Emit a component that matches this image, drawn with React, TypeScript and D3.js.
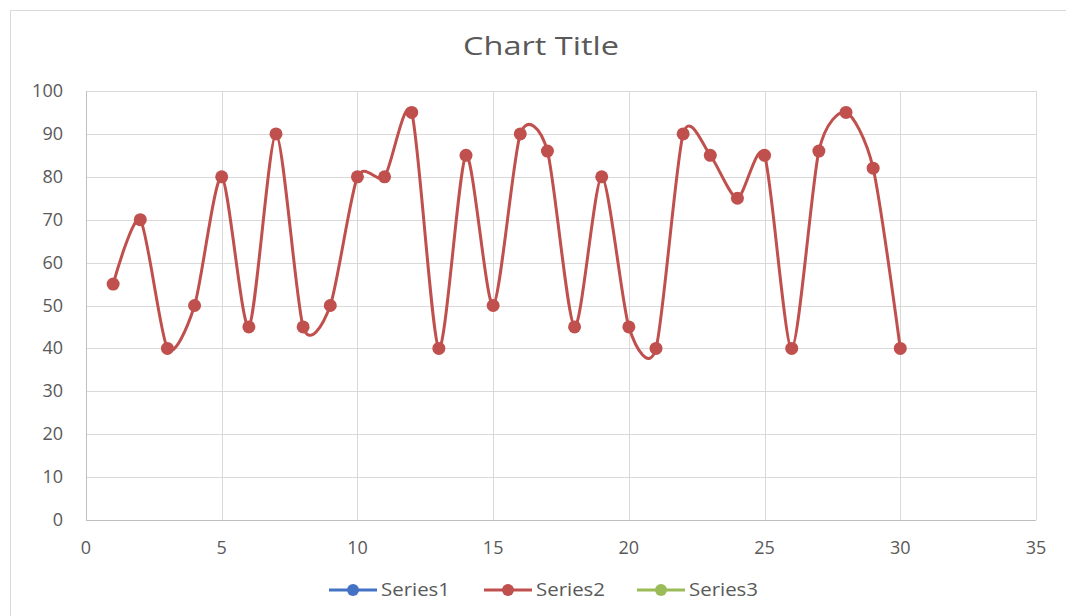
import React from "react";
import * as d3 from "d3";

const xValues = [1, 2, 3, 4, 5, 6, 7, 8, 9, 10, 11, 12, 13, 14, 15, 16, 17, 18, 19, 20, 21, 22, 23, 24, 25, 26, 27, 28, 29, 30];
const series2 = [55, 70, 40, 50, 80, 45, 90, 45, 50, 80, 80, 95, 40, 85, 50, 90, 86, 45, 80, 45, 40, 90, 85, 75, 85, 40, 86, 95, 82, 40];
const xTicks = [0, 5, 10, 15, 20, 25, 30, 35];
const yTicks = [0, 10, 20, 30, 40, 50, 60, 70, 80, 90, 100];
const legendItems = [
  { name: "Series1", color: "#4472C4" },
  { name: "Series2", color: "#C0504D" },
  { name: "Series3", color: "#9BBB59" },
];

export default function App() {
  const W = 1066, H = 616;
  const x = d3.scaleLinear().domain([0, 35]).range([86, 1036]);
  const y = d3.scaleLinear().domain([0, 100]).range([520, 91]);
  const pts: [number, number][] = xValues.map((v, i) => [v, series2[i]]);
  const line = d3
    .line<[number, number]>()
    .x((d) => x(d[0]))
    .y((d) => y(d[1]))
    .curve(d3.curveCardinal.tension(0.25));
  const font = "'Open Sans', 'Noto Sans', sans-serif";
  const legendX = [329, 484, 637];
  return (
    <svg width={W} height={H} style={{ position: "absolute", left: 0, top: 0 }} fontFamily={font}>
      <rect x={0} y={0} width={W} height={H} fill="#fff" />
      <rect x={10.5} y={10.5} width={W + 10} height={H + 10} fill="#fff" stroke="#d9d9d9" strokeWidth={1} />
      <text x={541} y={55} textAnchor="middle" fontSize={26} fill="#595959" textLength={156} lengthAdjust="spacingAndGlyphs">Chart Title</text>
      {yTicks.map((t) => (
        <g key={"y" + t}>
          <line x1={86} x2={1036} y1={Math.round(y(t)) + 0.5} y2={Math.round(y(t)) + 0.5} stroke={t === 0 ? "#bfbfbf" : "#d9d9d9"} />
          <text x={63} y={y(t) + 6} textAnchor="end" fontSize={18} fill="#595959">{t}</text>
        </g>
      ))}
      {xTicks.map((t) => (
        <g key={"x" + t}>
          <line x1={Math.round(x(t)) + 0.5} x2={Math.round(x(t)) + 0.5} y1={91} y2={520} stroke={t === 0 ? "#bfbfbf" : "#d9d9d9"} />
          <text x={x(t)} y={554} textAnchor="middle" fontSize={18} fill="#595959">{t}</text>
        </g>
      ))}
      <path d={line(pts) || ""} fill="none" stroke="#C0504D" strokeWidth={3} />
      {pts.map((p, i) => (
        <circle key={i} cx={x(p[0])} cy={y(p[1])} r={6.5} fill="#C0504D" />
      ))}
      {legendItems.map((it, i) => (
        <g key={it.name}>
          <line x1={legendX[i]} x2={legendX[i] + 48} y1={590} y2={590} stroke={it.color} strokeWidth={3} />
          <circle cx={legendX[i] + 24} cy={590} r={6} fill={it.color} />
          <text x={legendX[i] + 52} y={596} fontSize={18} fill="#595959" textLength={69} lengthAdjust="spacingAndGlyphs">{it.name}</text>
        </g>
      ))}
    </svg>
  );
}
